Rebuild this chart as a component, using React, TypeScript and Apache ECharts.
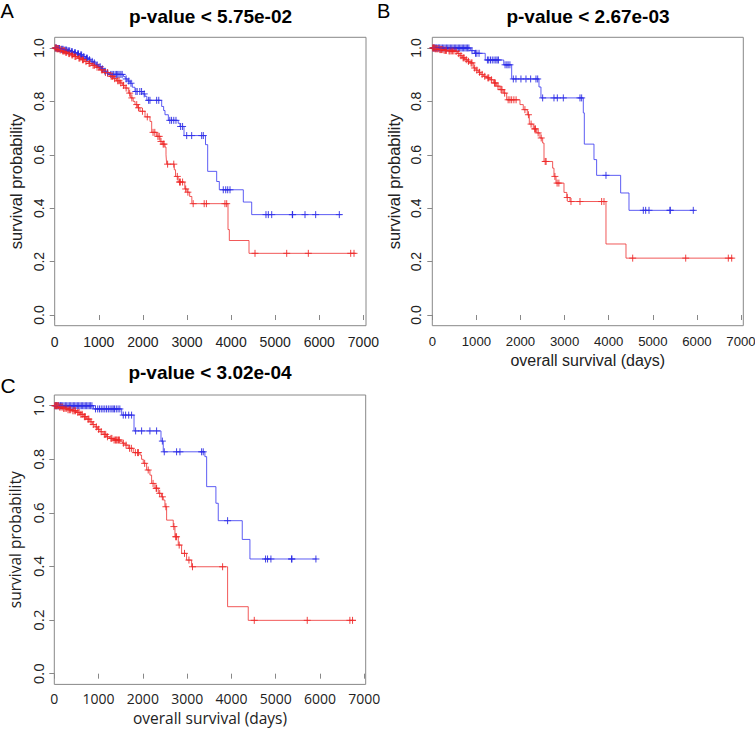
import { useEffect, useRef } from "react";
import * as echarts from "echarts";

// ---------- tick labels / texts ----------
const xTicks = [0, 1000, 2000, 3000, 4000, 5000, 6000, 7000];
const yTicks = [0, 0.2, 0.4, 0.6, 0.8, 1.0];
const titles = ["p-value < 5.75e-02", "p-value < 2.67e-03", "p-value < 3.02e-04"];
const letters = ["A", "B", "C"];
const yName = "survival probability";
const xName = "overall survival (days)";

// ---------- Panel A ----------
const aBlueT = [0, 60, 130, 210, 290, 360, 430, 500, 570, 640, 700, 760, 820, 880, 940, 1000, 1060, 1110, 1180, 1250, 1560, 1600, 1660, 1710, 1760, 1820, 2000, 2048, 2090, 2426, 2470, 2501, 2577, 2800, 2841, 2932, 3420, 3469, 3673, 3733, 4277, 4467, 6508];
const aBlueS = [1.0, 0.998, 0.995, 0.992, 0.989, 0.986, 0.982, 0.978, 0.974, 0.968, 0.962, 0.956, 0.95, 0.944, 0.937, 0.93, 0.922, 0.913, 0.906, 0.901, 0.893, 0.884, 0.876, 0.868, 0.853, 0.837, 0.828, 0.819, 0.804, 0.781, 0.766, 0.75, 0.729, 0.718, 0.706, 0.672, 0.638, 0.538, 0.5, 0.469, 0.423, 0.376, 0.376];
const aBlueC = [20, 40, 70, 90, 110, 150, 170, 190, 230, 250, 270, 300, 320, 340, 380, 400, 450, 470, 520, 540, 590, 610, 660, 720, 740, 790, 850, 900, 960, 1030, 1080, 1140, 1200, 1270, 1300, 1330, 1370, 1400, 1430, 1460, 1500, 1530, 1620, 1680, 1730, 1840, 1870, 1930, 1970, 2030, 2130, 2160, 2312, 2360, 2610, 2650, 2700, 2750, 2856, 2900, 2993, 3106, 3333, 3370, 3823, 3878, 3923, 3975, 4791, 4844, 4921, 5388, 5395, 5676, 5918, 6454];
const aRedT = [0, 40, 100, 160, 230, 300, 370, 440, 520, 600, 680, 760, 840, 930, 1027, 1120, 1254, 1330, 1400, 1481, 1540, 1594, 1670, 1723, 1780, 1821, 1880, 1934, 2048, 2161, 2199, 2312, 2388, 2440, 2501, 2524, 2539, 2712, 2740, 2800, 2950, 3000, 3060, 3110, 3930, 3960, 4406, 6832];
const aRedS = [1.0, 0.997, 0.993, 0.989, 0.984, 0.979, 0.974, 0.968, 0.962, 0.956, 0.949, 0.942, 0.935, 0.928, 0.918, 0.908, 0.894, 0.885, 0.877, 0.869, 0.86, 0.85, 0.831, 0.813, 0.8, 0.788, 0.776, 0.763, 0.742, 0.725, 0.684, 0.669, 0.65, 0.64, 0.629, 0.6, 0.565, 0.544, 0.519, 0.498, 0.472, 0.46, 0.444, 0.417, 0.32, 0.279, 0.231, 0.231];
const aRedC = [10, 30, 50, 70, 80, 120, 140, 180, 200, 220, 250, 270, 320, 340, 390, 410, 460, 480, 550, 570, 630, 650, 710, 780, 800, 870, 900, 960, 1000, 1060, 1090, 1150, 1200, 1280, 1310, 1360, 1430, 1460, 1500, 1560, 1620, 1700, 1750, 1860, 1900, 1990, 2100, 2230, 2270, 2340, 2370, 2410, 2460, 2480, 2560, 2700, 2780, 2830, 2850, 2900, 2970, 3020, 3140, 3390, 3440, 3860, 3900, 4542, 5261, 5751, 6712, 6787];

// ---------- Panel B ----------
const bBlueT = [0, 870, 960, 1200, 1620, 1800, 2419, 2464, 3424, 3447, 3666, 3726, 4271, 4460, 5956];
const bBlueS = [1.0, 0.99, 0.98, 0.955, 0.937, 0.884, 0.854, 0.813, 0.757, 0.64, 0.582, 0.523, 0.457, 0.392, 0.392];
const bBlueC = [20, 40, 60, 80, 100, 130, 150, 170, 200, 230, 260, 290, 320, 350, 380, 410, 440, 470, 500, 530, 560, 590, 620, 650, 680, 710, 740, 770, 800, 830, 900, 980, 1010, 1060, 1250, 1280, 1320, 1360, 1400, 1440, 1470, 1500, 1650, 1690, 1720, 1760, 1837, 1897, 2010, 2124, 2230, 2351, 2390, 2502, 2759, 2835, 2971, 3349, 3387, 3938, 4785, 4838, 4914, 5390, 5395, 5918];
const bRedT = [0, 60, 150, 250, 350, 515, 570, 628, 680, 741, 800, 855, 930, 990, 1044, 1100, 1157, 1230, 1308, 1384, 1459, 1535, 1610, 1686, 1988, 2063, 2154, 2200, 2290, 2366, 2441, 2502, 2533, 2729, 2759, 2805, 2986, 3050, 3122, 3938, 4392, 6826];
const bRedS = [1.0, 0.997, 0.994, 0.991, 0.989, 0.987, 0.979, 0.971, 0.963, 0.956, 0.95, 0.944, 0.925, 0.917, 0.909, 0.901, 0.894, 0.888, 0.881, 0.869, 0.857, 0.844, 0.831, 0.806, 0.788, 0.769, 0.75, 0.715, 0.697, 0.682, 0.663, 0.644, 0.575, 0.55, 0.519, 0.494, 0.459, 0.44, 0.425, 0.266, 0.213, 0.213];
const bRedC = [10, 25, 45, 65, 85, 110, 130, 170, 190, 210, 240, 270, 300, 320, 380, 400, 430, 460, 490, 540, 600, 650, 700, 720, 770, 820, 880, 900, 960, 1010, 1070, 1130, 1190, 1260, 1280, 1340, 1410, 1430, 1490, 1560, 1580, 1640, 1720, 1760, 1800, 1850, 1900, 2100, 2180, 2240, 2320, 2340, 2400, 2470, 2560, 2580, 2780, 2830, 2870, 3060, 3145, 3349, 3840, 3893, 4544, 5746, 6712, 6789];

// ---------- Panel C ----------
const cBlueT = [0, 883, 1521, 1800, 2409, 2460, 3400, 3440, 3649, 3702, 4244, 4417, 5922];
const cBlueS = [1.0, 0.988, 0.965, 0.906, 0.868, 0.828, 0.81, 0.698, 0.636, 0.571, 0.501, 0.428, 0.428];
const cBlueC = [20, 40, 60, 90, 110, 140, 160, 190, 220, 250, 280, 310, 340, 370, 400, 430, 460, 490, 520, 550, 580, 610, 640, 670, 700, 730, 760, 790, 820, 850, 930, 980, 1020, 1060, 1100, 1140, 1180, 1220, 1260, 1300, 1330, 1360, 1400, 1440, 1480, 1557, 1610, 1680, 1745, 1836, 1971, 2159, 2310, 2440, 2483, 2761, 2837, 3326, 3363, 3913, 4770, 4815, 4891, 5357, 5365, 5907];
const cRedT = [0, 100, 200, 300, 400, 504, 580, 655, 730, 805, 860, 918, 975, 1031, 1100, 1181, 1250, 1332, 1482, 1540, 1595, 1670, 1783, 1934, 1970, 2009, 2084, 2159, 2197, 2272, 2348, 2420, 2460, 2498, 2536, 2686, 2724, 2799, 2874, 2987, 3100, 3913, 4379, 6810];
const cRedS = [1.0, 0.995, 0.99, 0.985, 0.981, 0.975, 0.968, 0.959, 0.95, 0.94, 0.93, 0.921, 0.912, 0.903, 0.893, 0.884, 0.878, 0.872, 0.866, 0.86, 0.853, 0.841, 0.825, 0.816, 0.8, 0.785, 0.76, 0.741, 0.71, 0.692, 0.673, 0.66, 0.648, 0.623, 0.573, 0.549, 0.511, 0.48, 0.449, 0.424, 0.399, 0.25, 0.199, 0.199];
const cRedC = [10, 30, 50, 70, 90, 120, 150, 180, 210, 240, 270, 310, 340, 370, 420, 450, 480, 530, 560, 600, 630, 680, 700, 760, 780, 830, 880, 950, 1000, 1060, 1130, 1160, 1200, 1280, 1300, 1350, 1380, 1400, 1420, 1450, 1470, 1560, 1620, 1700, 1740, 1830, 1880, 1900, 2040, 2120, 2230, 2300, 2310, 2380, 2440, 2520, 2700, 2740, 2760, 2820, 2940, 3040, 3120, 3800, 4515, 5711, 6674, 6734];

const BLUE_LINE = "#3535f0";
const BLUE_MARK = "#2020e0";
const RED_LINE = "#ee3030";
const RED_MARK = "#ee2020";
const ARIAL = "'Liberation Sans', Arial, Helvetica, sans-serif";
const OPEN = "'Open Sans', 'Liberation Sans', sans-serif";
const PLUS = "path://M5,0L5,10M0,5L10,5";

function survAt(t: number[], s: number[], x: number): number {
  let v = s[0];
  for (let i = 0; i < t.length; i++) if (t[i] <= x) v = s[i];
  return v;
}

function curveSeries(idx: number, t: number[], s: number[], c: number[], lineColor: string, markColor: string) {
  return [
    {
      type: "line",
      xAxisIndex: idx,
      yAxisIndex: idx,
      step: "end",
      showSymbol: false,
      silent: true,
      data: t.map((x, i) => [x, s[i]]),
      lineStyle: { width: 1, color: lineColor, opacity: 0.8 },
    },
    {
      type: "scatter",
      xAxisIndex: idx,
      yAxisIndex: idx,
      silent: true,
      symbol: PLUS,
      symbolSize: 7,
      data: c.map((x) => [x, survAt(t, s, x)]),
      itemStyle: { color: "rgba(0,0,0,0)", borderColor: markColor, borderWidth: 1, opacity: 0.85 },
    },
  ];
}

export default function App() {
  const ref = useRef<HTMLDivElement>(null);
  useEffect(() => {
    if (!ref.current) return;
    const chart = echarts.init(ref.current, null, { renderer: "svg" });
    const grids = [
      { left: 54.7, top: 37.3, width: 311.3, height: 288.4 },
      { left: 432.3, top: 37.3, width: 311, height: 288.4 },
      { left: 54.3, top: 395, width: 311.4, height: 289.4 },
    ];
    const xMax = [7059, 7052, 7031];
    const fonts = [ARIAL, ARIAL, OPEN];
    const showXName = [false, true, true];
    const xLabelSize = [14, 13.2, 14];
    const xLabelMargin = [9, 9, 7];
    const option: any = {
      animation: false,
      grid: grids.map((g) => ({
        ...g,
        show: true,
        borderColor: "#888",
        borderWidth: 1,
        backgroundColor: "transparent",
        containLabel: false,
        outerBoundsMode: "none",
      })),
      xAxis: grids.map((_, i) => ({
        gridIndex: i,
        type: "value",
        min: 0,
        max: xMax[i],
        axisLine: { show: false },
        splitLine: { show: false },
        axisTick: { show: true, length: 5, lineStyle: { color: "#888" }, customValues: xTicks },
        axisLabel: {
          customValues: xTicks,
          margin: xLabelMargin[i],
          fontSize: xLabelSize[i],
          color: "#222",
          fontFamily: fonts[i],
          formatter: (v: number) => String(v),
        },
        name: showXName[i] ? xName : "",
        nameLocation: "middle",
        nameGap: i === 2 ? 26 : 27,
        nameTextStyle: { fontSize: i === 2 ? 15.5 : 16, color: "#222", fontFamily: fonts[i] },
      })),
      yAxis: grids.map((_, i) => ({
        gridIndex: i,
        type: "value",
        min: -0.04,
        max: 1.04,
        axisLine: { show: false },
        splitLine: { show: false },
        axisTick: { show: true, length: 5, lineStyle: { color: "#888" }, customValues: yTicks },
        axisLabel: {
          customValues: yTicks,
          rotate: 90,
          margin: 9,
          fontSize: i === 2 ? 15 : 14,
          color: "#222",
          fontFamily: fonts[i],
          formatter: (v: number) => v.toFixed(1),
        },
        name: yName,
        nameLocation: "middle",
        nameGap: i === 2 ? 31 : 30,
        nameTextStyle: { fontSize: i === 2 ? 15.5 : 16.5, color: "#222", fontFamily: fonts[i] },
      })),
      graphic: [
        { type: "text", x: 210.5, y: 16.5, style: { text: titles[0], align: "center", verticalAlign: "middle", font: `bold 19px ${ARIAL}`, fill: "#000" } },
        { type: "text", x: 588, y: 16.5, style: { text: titles[1], align: "center", verticalAlign: "middle", font: `bold 19px ${ARIAL}`, fill: "#000" } },
        { type: "text", x: 210, y: 372.5, style: { text: titles[2], align: "center", verticalAlign: "middle", font: `bold 19px ${ARIAL}`, fill: "#000" } },
        { type: "text", x: 0.5, y: 11, style: { text: letters[0], align: "left", verticalAlign: "middle", font: `20px ${ARIAL}`, fill: "#000" } },
        { type: "text", x: 377, y: 11, style: { text: letters[1], align: "left", verticalAlign: "middle", font: `20px ${ARIAL}`, fill: "#000" } },
        { type: "text", x: 0.5, y: 385, style: { text: letters[2], align: "left", verticalAlign: "middle", font: `21px ${ARIAL}`, fill: "#000" } },
      ],
      series: [
        ...curveSeries(0, aBlueT, aBlueS, aBlueC, BLUE_LINE, BLUE_MARK),
        ...curveSeries(0, aRedT, aRedS, aRedC, RED_LINE, RED_MARK),
        ...curveSeries(1, bBlueT, bBlueS, bBlueC, BLUE_LINE, BLUE_MARK),
        ...curveSeries(1, bRedT, bRedS, bRedC, RED_LINE, RED_MARK),
        ...curveSeries(2, cBlueT, cBlueS, cBlueC, BLUE_LINE, BLUE_MARK),
        ...curveSeries(2, cRedT, cRedS, cRedC, RED_LINE, RED_MARK),
      ],
    };
    chart.setOption(option);
    return () => chart.dispose();
  }, []);
  return (
    <div
      ref={ref}
      style={{ position: "fixed", left: 0, top: 0, width: 755, height: 729, background: "#fff" }}
    />
  );
}
